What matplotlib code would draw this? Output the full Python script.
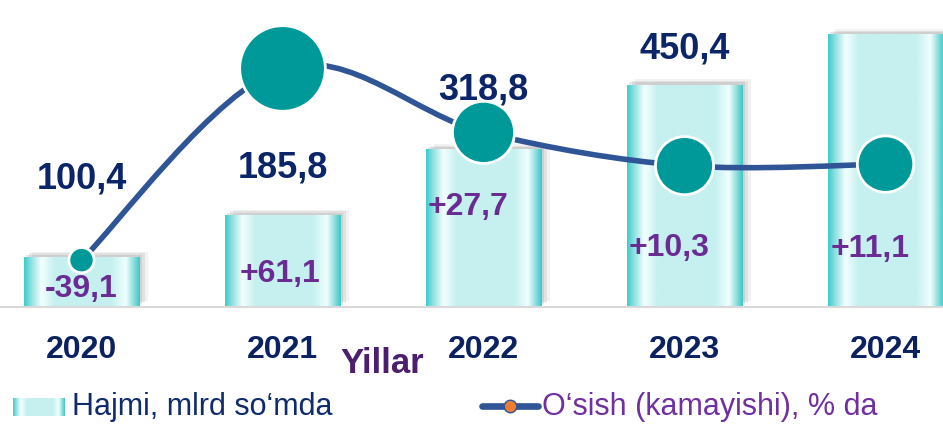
import numpy as np
import matplotlib
matplotlib.use('Agg')
import matplotlib.pyplot as plt
from matplotlib.path import Path
from matplotlib.patches import PathPatch
from matplotlib.lines import Line2D
from matplotlib.colors import LinearSegmentedColormap
from matplotlib.transforms import offset_copy
import matplotlib.patheffects as pe

plt.rcParams['font.family'] = ['Liberation Sans', 'DejaVu Sans']

# data
years = ['2020', '2021', '2022', '2023', '2024']
volume = [100.4, 185.8, 318.8, 450.4, 552.0]     # Hajmi, mlrd so'mda (2024 has no label)
volume_labels = ['100,4', '185,8', '318,8', '450,4', '']
growth = [-39.1, 61.1, 27.7, 10.3, 11.1]          # O'sish (kamayishi), %

# colours
NAVY = '#0C2468'
PURPLE = '#6A2B93'
LINE_BLUE = '#2F5597'
TEAL = '#009999'
ORANGE = '#ED7D31'

bar_cmap = LinearSegmentedColormap.from_list('cyl', [
    (0.00, '#3CCCCC'), (0.06, '#8FE0E0'), (0.15, '#F4FFFF'), (0.26, '#C6F0F0'),
    (0.76, '#C6F0F0'), (0.88, '#F0FFFF'), (0.95, '#8ADCDC'), (1.00, '#3CC8C8')])
grad = bar_cmap(np.linspace(0, 1, 256))[np.newaxis, :, :]

fig = plt.figure(figsize=(9.43, 4.24), dpi=100)
ax = fig.add_axes([0, 117 / 424, 1, 307 / 424])

x = np.arange(len(years))
width = 0.577

shadow = [pe.SimplePatchShadow(offset=(2, 2), shadow_rgbFace='#808080', alpha=0.18),
          pe.SimplePatchShadow(offset=(4, 3), shadow_rgbFace='#808080', alpha=0.14),
          pe.SimplePatchShadow(offset=(6, 4), shadow_rgbFace='#808080', alpha=0.10)]
bars = ax.bar(x, volume, width, color='none', zorder=1, path_effects=shadow)
for rect in bars:
    x0, w, h = rect.get_x(), rect.get_width(), rect.get_height()
    ax.imshow(grad, extent=[x0, x0 + w, 0, h], aspect='auto',
              interpolation='bicubic', zorder=2)

ax.set_xlim(-0.4055, 4.286)
ax.set_ylim(0, 623)
for side in ['top', 'left', 'right']:
    ax.spines[side].set_visible(False)
ax.spines['bottom'].set_color('#D9D9D9')
ax.spines['bottom'].set_linewidth(1.5)
ax.set_yticks([])
ax.set_xticks(x, years)
ax.tick_params(axis='x', length=0, pad=20, labelsize=23, labelcolor='#0B2160')
for t in ax.get_xticklabels():
    t.set_fontweight('bold')

# volume labels above the bars
vol_offsets = [50, 27, 36, 19, 19]
for xi, v, lab, off in zip(x, volume, volume_labels, vol_offsets):
    ax.annotate(lab, (xi, v), xytext=(0, off), textcoords='offset points',
                ha='center', va='baseline', fontsize=26, fontweight='bold',
                color=NAVY, zorder=5)

# growth line on a hidden secondary axis
ax2 = ax.twinx()
ax2.set_ylim(-63.6, 96.9)
ax2.axis('off')

pts = np.column_stack([x, growth]).astype(float)
ext = np.vstack([pts[0], pts, pts[-1]])
verts = [tuple(pts[0])]
codes = [Path.MOVETO]
for i in range(len(pts) - 1):
    p0, p1, p2, p3 = ext[i], ext[i + 1], ext[i + 2], ext[i + 3]
    verts += [tuple(p1 + (p2 - p0) / 6), tuple(p2 - (p3 - p1) / 6), tuple(p2)]
    codes += [Path.CURVE4] * 3
ax2.add_patch(PathPatch(Path(verts, codes), fill=False, edgecolor=LINE_BLUE,
                        lw=4.0, capstyle='round', zorder=2))

ax2.plot(x[:1], growth[:1], 'o', color=ORANGE, ms=9, zorder=3,
         transform=offset_copy(ax2.transData, fig=fig, x=0, y=-4, units='points'))
marker_sizes = [330, 3800, 2000, 1750, 1650]
ax2.scatter(x, growth, s=marker_sizes, c=TEAL, edgecolors='white',
            linewidths=2, zorder=4)

# growth labels inside the bars
growth_offsets = [(0, 7), (-2, 18), (-11, 66), (-11, 37), (-11, 36)]
for xi, g, (dx, dy) in zip(x, growth, growth_offsets):
    txt = f"{g:+.1f}".replace('.', ',')
    ax2.annotate(txt, (xi, -63.6), xytext=(dx, dy), textcoords='offset points',
                 ha='center', va='baseline', fontsize=23, fontweight='bold',
                 color=PURPLE, zorder=5)

fig.text(382 / 943, (424 - 373) / 424, 'Yillar', ha='center', va='baseline',
         fontsize=25, fontweight='bold', color='#4B1E6E')

# legend
sw = fig.add_axes([13 / 943, 8 / 424, 52 / 943, 18 / 424])
sw.imshow(grad, aspect='auto', interpolation='bicubic')
sw.axis('off')
fig.text(72 / 943, 9 / 424, 'Hajmi, mlrd so‘mda', ha='left', va='baseline',
         fontsize=22, color='#0F2B6E')
ly = 18 / 424
fig.add_artist(Line2D([482 / 943, 538 / 943], [ly, ly], transform=fig.transFigure,
                      color=LINE_BLUE, lw=4.8, solid_capstyle='round'))
fig.add_artist(Line2D([510 / 943], [ly], transform=fig.transFigure, marker='o',
                      ms=9, mfc=ORANGE, mec=LINE_BLUE, mew=1))
fig.text(542 / 943, 9 / 424, 'O‘sish (kamayishi), % da', ha='left', va='baseline',
         fontsize=22, color='#7030A0')

fig.savefig('out.png', dpi=100)
